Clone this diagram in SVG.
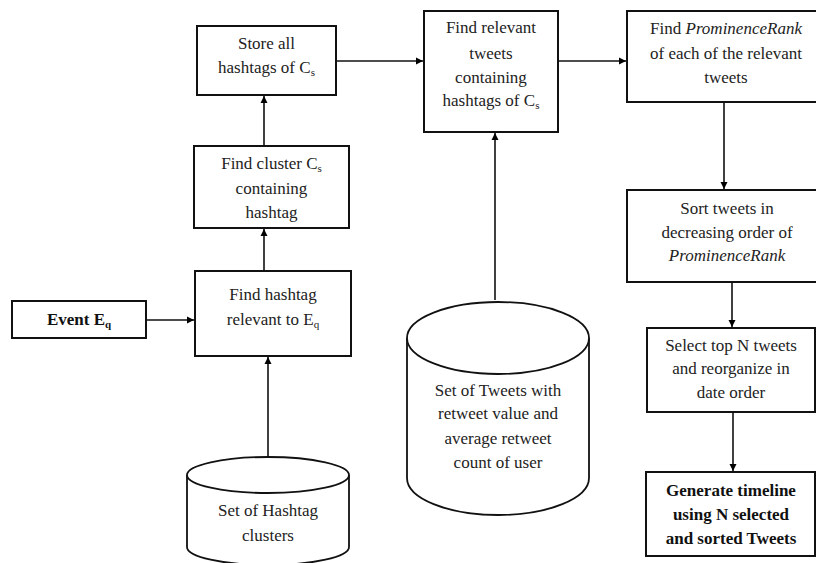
<svg xmlns="http://www.w3.org/2000/svg" width="816" height="563" viewBox="0 0 816 563">
<defs>
<marker id="ah" markerWidth="8" markerHeight="8" refX="7" refY="4" orient="auto" markerUnits="userSpaceOnUse">
<path d="M0,0.5 L7,4 L0,7.5 Z" fill="#000"/>
</marker>
<style>
.box{fill:#fff;stroke:#111;stroke-width:2}
.cyl{fill:#fff;stroke:#111;stroke-width:1.8}
.t{font-family:"Liberation Serif","Times New Roman",serif;font-size:17px;fill:#222;text-anchor:middle}
.b{font-weight:bold;fill:#111}
.i{font-style:italic}
.sub{font-size:11px}
.c{fill:none;stroke:#111;stroke-width:1.6;marker-end:url(#ah)}
</style>
</defs>
<rect width="816" height="563" fill="#fff"/>

<g id="connectors">
<line class="c" x1="146" y1="320" x2="194" y2="320"/>
<line class="c" x1="268" y1="457" x2="268" y2="357"/>
<line class="c" x1="264" y1="271" x2="264" y2="229"/>
<line class="c" x1="264" y1="146" x2="264" y2="96"/>
<line class="c" x1="336" y1="61" x2="423" y2="61"/>
<line class="c" x1="495" y1="300" x2="495" y2="133"/>
<line class="c" x1="558" y1="61" x2="626" y2="61"/>
<line class="c" x1="724" y1="102" x2="724" y2="189"/>
<line class="c" x1="732" y1="282" x2="732" y2="327"/>
<line class="c" x1="733" y1="412" x2="733" y2="471"/>
</g>

<g id="event">
<rect class="box" x="12" y="301" width="134" height="37"/>
<text class="t b" x="79" y="325">Event E<tspan class="sub" dy="3">q</tspan></text>
</g>

<g id="find-hashtag">
<rect class="box" x="195" y="271" width="156" height="85"/>
<text class="t" x="273" y="300">Find hashtag</text>
<text class="t" x="273" y="325">relevant to E<tspan class="sub" dy="3">q</tspan></text>
</g>

<g id="hashtag-clusters">
<path class="cyl" d="M187,475 L187,547 A81,18 0 0 0 349,547 L349,475"/>
<ellipse class="cyl" cx="268" cy="475" rx="81" ry="18"/>
<text class="t" x="268" y="516">Set of Hashtag</text>
<text class="t" x="268" y="541">clusters</text>
</g>

<g id="find-cluster">
<rect class="box" x="194" y="146" width="155" height="82"/>
<text class="t" x="271.5" y="169">Find cluster C<tspan class="sub" dy="3">s</tspan></text>
<text class="t" x="271.5" y="194">containing</text>
<text class="t" x="271.5" y="218">hashtag</text>
</g>

<g id="store-hashtags">
<rect class="box" x="197" y="26" width="139" height="69"/>
<text class="t" x="266.5" y="49">Store all</text>
<text class="t" x="266.5" y="73">hashtags of C<tspan class="sub" dy="3">s</tspan></text>
</g>

<g id="find-relevant">
<rect class="box" x="424" y="11" width="134" height="121"/>
<text class="t" x="491" y="33">Find relevant</text>
<text class="t" x="491" y="59">tweets</text>
<text class="t" x="491" y="83">containing</text>
<text class="t" x="491" y="106">hashtags of C<tspan class="sub" dy="3">s</tspan></text>
</g>

<g id="tweets-set">
<path class="cyl" d="M407,338 L407,478 A91,37 0 0 0 589,478 L589,338"/>
<ellipse class="cyl" cx="498" cy="338" rx="91" ry="36"/>
<text class="t" x="498" y="396">Set of Tweets with</text>
<text class="t" x="498" y="419">retweet value and</text>
<text class="t" x="498" y="444">average retweet</text>
<text class="t" x="498" y="468">count of user</text>
</g>

<g id="prominence">
<rect class="box" x="627" y="11" width="192" height="91"/>
<text class="t" x="726" y="34">Find <tspan class="i">ProminenceRank</tspan></text>
<text class="t" x="726" y="59">of each of the relevant</text>
<text class="t" x="726" y="83">tweets</text>
</g>

<g id="sort">
<rect class="box" x="627" y="190" width="192" height="92"/>
<text class="t" x="727" y="214">Sort tweets in</text>
<text class="t" x="727" y="238">decreasing order of</text>
<text class="t i" x="727" y="261">ProminenceRank</text>
</g>

<g id="select">
<rect class="box" x="647" y="328" width="168" height="84"/>
<text class="t" x="731" y="351">Select top N tweets</text>
<text class="t" x="731" y="374">and reorganize in</text>
<text class="t" x="731" y="398">date order</text>
</g>

<g id="generate">
<rect class="box" x="646" y="472" width="169" height="84"/>
<text class="t b" x="731" y="496">Generate timeline</text>
<text class="t b" x="731" y="520">using N selected</text>
<text class="t b" x="731" y="544">and sorted Tweets</text>
</g>
</svg>
